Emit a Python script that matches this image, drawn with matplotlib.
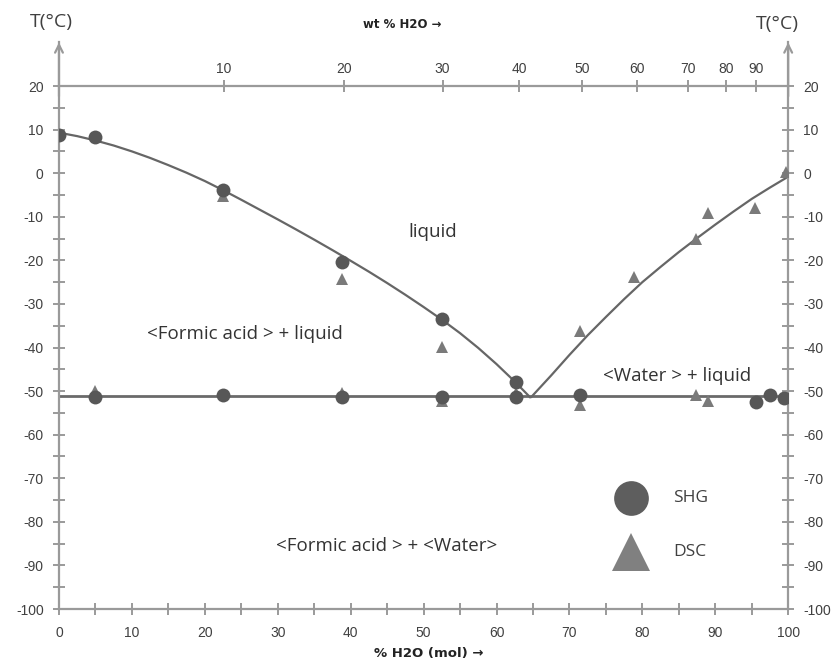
import matplotlib
matplotlib.use("Agg")
import matplotlib.pyplot as plt

plt.rcParams["axes.unicode_minus"] = False

# SHG points (mol % H2O, T in °C)
shg_x = [0, 5, 22.5, 38.8, 52.5, 62.7, 5, 22.5, 38.8, 52.5, 62.7, 71.5, 95.6, 97.5, 99.4]
shg_t = [8.8, 8.3, -3.9, -20.4, -33.4, -47.8, -51.4, -50.9, -51.3, -51.4, -51.4, -50.9, -52.6, -50.9, -51.5]

# DSC points
dsc_x = [22.5, 38.8, 52.5, 71.5, 78.9, 87.3, 89.0, 95.5, 99.7, 5, 38.8, 52.5, 62.7, 71.5, 87.3, 89.0]
dsc_t = [-5.3, -24.3, -39.8, -36.2, -23.8, -15.0, -9.2, -7.9, 0.2, -50.0, -50.5, -52.3, -50.5, -53.2, -50.9, -52.2]

# liquidus curves
left_x = [0, 2.5, 5, 7.5, 10, 12.5, 15, 17.5, 20, 22.5, 25, 27.5, 30, 32.5, 35,
          37.5, 40, 42.5, 45, 47.5, 50, 52.5, 55, 57.5, 60, 62.5, 64.6]
left_t = [9.3, 8.5, 7.5, 6.35, 5.0, 3.5, 1.85, 0.1, -1.8, -3.9, -6.1, -8.35, -10.6, -12.9, -15.25,
          -17.65, -20.1, -22.6, -25.2, -27.9, -30.7, -33.6, -36.7, -40.1, -43.8, -47.8, -51.4]
right_x = [64.8, 67.5, 70, 72.5, 75, 77.5, 80, 82.5, 85, 87.5, 90, 92.5, 95, 97.5, 100]
right_t = [-51.3, -46.4, -41.7, -37.2, -33.0, -28.9, -25.0, -21.5, -18.1, -14.9, -11.8, -8.8, -5.9, -3.3, -0.8]

eutectic_x = [0, 100]
eutectic_t = [-51.2, -51.2]

# top axis: wt % H2O ticks placed at their mol % position
wt_labels = ["10", "20", "30", "40", "50", "60", "70", "80", "90"]
wt_pos = [22.6, 39.1, 52.6, 63.1, 71.7, 79.3, 86.2, 91.5, 95.6]

axis_col = "#9a9a9a"
text_col = "#404040"
tick_font = "Liberation Sans"

fig = plt.figure(figsize=(8.33, 6.63), dpi=100)
ax = fig.add_axes([0.0708, 0.0814, 0.8754, 0.8546])
ax.set_xlim(0, 100)
ax.set_ylim(-100, 30)

ax.spines["top"].set_visible(False)
for s in ["left", "right", "bottom"]:
    ax.spines[s].set_color(axis_col)
    ax.spines[s].set_linewidth(1.6)

ax.set_xticks(range(0, 101, 10))
ax.set_xticks(range(5, 100, 10), minor=True)
ax.set_yticks(range(-100, 21, 10))
ax.set_yticks(range(-95, 20, 10), minor=True)
ax.tick_params(which="both", direction="inout", color=axis_col, width=1.4,
               length=8, labelcolor=text_col, labelsize=10)
ax.tick_params(axis="y", which="both", right=True, labelright=True, pad=7)
ax.tick_params(axis="x", which="both", pad=8)
for lab in ax.get_xticklabels() + ax.get_yticklabels():
    lab.set_family(tick_font)

# arrows on top of the temperature axes
for xa in (0, 1):
    ax.annotate("", xy=(xa, 1.005), xytext=(xa, 0.9), xycoords="axes fraction",
                arrowprops=dict(arrowstyle="->", color=axis_col, lw=1.6,
                                mutation_scale=14), annotation_clip=False)

# wt % axis drawn at T = 20
top = ax.secondary_xaxis(120 / 130)
top.spines["top"].set_color(axis_col)
top.spines["top"].set_linewidth(1.6)
top.set_xticks(wt_pos, labels=wt_labels)
top.tick_params(direction="inout", color=axis_col, width=1.4, length=9,
                labelcolor=text_col, labelsize=10, pad=3)
for lab in top.get_xticklabels():
    lab.set_family(tick_font)

ax.plot(eutectic_x, eutectic_t, color="#6a6a6a", lw=2.0, zorder=2)
ax.plot(left_x, left_t, color="#666666", lw=1.6, zorder=2)
ax.plot(right_x, right_t, color="#666666", lw=1.6, zorder=2)

ax.plot(dsc_x, dsc_t, "^", color="#7a7a7a", ms=8, mew=0, zorder=3)
ax.plot(shg_x, shg_t, "o", color="#575757", ms=10, mew=0, zorder=4)

# legend drawn by hand
ax.plot([0.785], [0.196], "o", color="#5e5e5e", ms=25, mew=0,
        transform=ax.transAxes, clip_on=False)
ax.plot([0.785], [0.1], "^", color="#808080", ms=27, mew=0,
        transform=ax.transAxes, clip_on=False)
ax.text(0.842, 0.196, "SHG", transform=ax.transAxes, fontsize=12.5,
        color=text_col, va="center", family="Open Sans")
ax.text(0.842, 0.1, "DSC", transform=ax.transAxes, fontsize=12.5,
        color=text_col, va="center", family="Open Sans")

region = dict(fontsize=13.5, color="#333333", ha="center", va="center", family="Open Sans")
ax.text(51.3, -13.5, "liquid", **region)
ax.text(25.5, -37.0, "<Formic acid > + liquid", **region)
ax.text(84.8, -46.5, "<Water > + liquid", **region)
ax.text(45.0, -85.5, "<Formic acid > + <Water>", **region)

fig.text(51 / 833, 1 - 22 / 663, "T(°C)", fontsize=14, color=text_col,
         ha="center", va="center", family="Open Sans")
fig.text(777 / 833, 1 - 24 / 663, "T(°C)", fontsize=14, color=text_col,
         ha="center", va="center", family="Open Sans")
fig.text(402 / 833, 1 - 25 / 663, "wt % H2O \u2192", fontsize=8.5, color="#222222",
         ha="center", va="center", weight="bold", family="DejaVu Sans")
fig.text(429 / 833, 1 - 653 / 663, "% H2O (mol) \u2192", fontsize=9.5, color="#222222",
         ha="center", va="center", weight="bold", family="DejaVu Sans")

fig.savefig("out.png", dpi=100)
